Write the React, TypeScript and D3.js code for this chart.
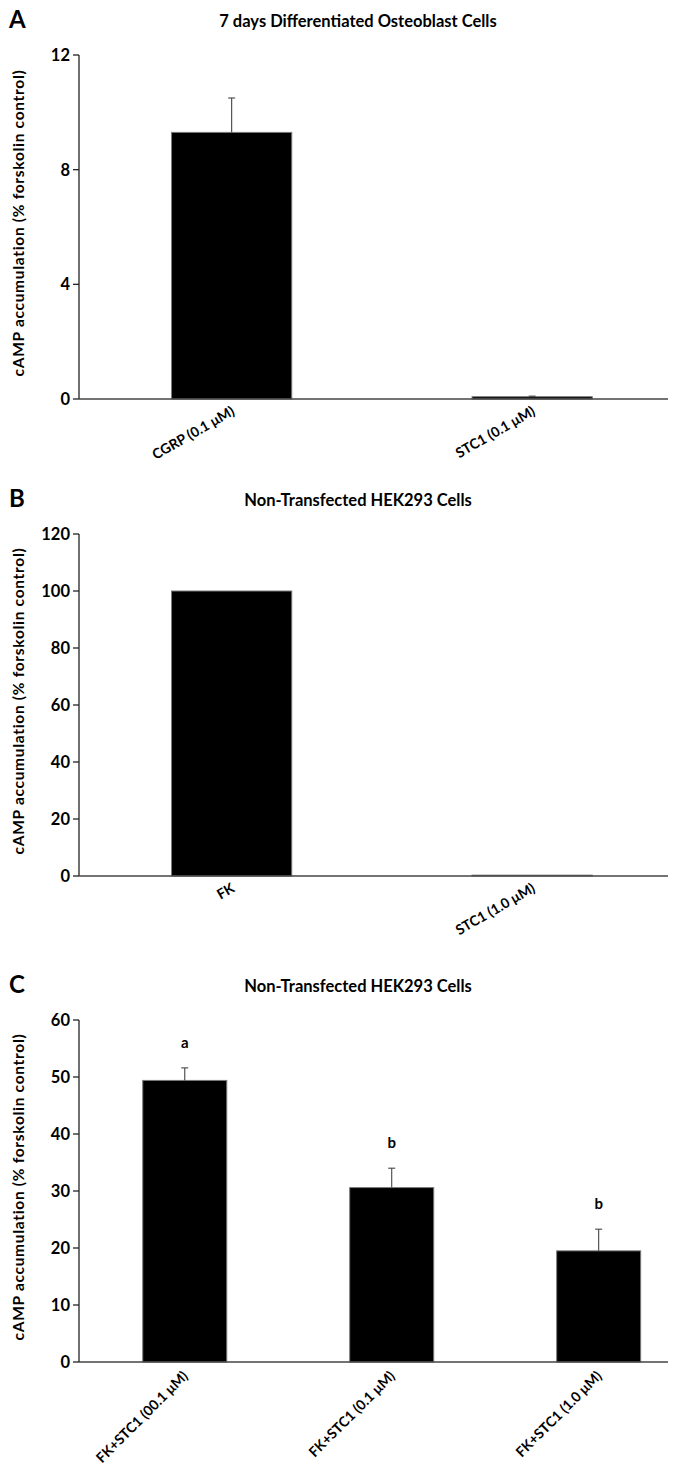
import * as d3 from "d3";

const catsA = ["CGRP (0.1 μM)", "STC1 (0.1 μM)"];
const meansA = [9.3, 0.08];
const errA = [1.2, 0.02];
const ticksA = [0, 4, 8, 12];

const catsB = ["FK", "STC1 (1.0 μM)"];
const meansB = [100, 0.3];
const errB = [0, 0];
const ticksB = [0, 20, 40, 60, 80, 100, 120];

const catsC = ["FK+STC1 (00.1 μM)", "FK+STC1 (0.1 μM)", "FK+STC1 (1.0 μM)"];
const meansC = [49.4, 30.6, 19.5];
const errC = [2.2, 3.4, 3.8];
const lettersC = ["a", "b", "b"];
const ticksC = [0, 10, 20, 30, 40, 50, 60];

const yTitle = "cAMP accumulation (% forskolin control)";
const font = "Lato, 'Open Sans', sans-serif";

const W = 675;
const H = 1468;
const axisX = 79;
const axisRight = 668;

type PanelProps = {
  letter: string;
  title: string;
  cats: string[];
  means: number[];
  errs: number[];
  ticks: number[];
  letters?: string[];
  top: number;
  bottom: number;
  padInner: number;
  padOuter: number;
  align: number;
  angle: number;
};

const Panel = (p: PanelProps) => {
  const max = p.ticks[p.ticks.length - 1];
  const y = d3.scaleLinear().domain([0, max]).range([p.bottom, p.top]);
  const x = d3
    .scaleBand()
    .domain(p.cats)
    .range([axisX, axisRight])
    .paddingInner(p.padInner)
    .paddingOuter(p.padOuter)
    .align(p.align);
  const bw = x.bandwidth();

  return (
    <g>
      <text x={9} y={p.top - 27} fontSize={24} fontWeight="bold" fontFamily={font}>
        {p.letter}
      </text>
      <text
        x={358}
        y={p.top - 28}
        textAnchor="middle"
        fontSize={16.5}
        fontWeight="bold"
        fontFamily={font}
      >
        {p.title}
      </text>
      <text
        transform={`translate(24,${(p.top + p.bottom) / 2 - 4}) rotate(-90)`}
        textAnchor="middle"
        fontSize={15.5}
        fontWeight="bold"
        fontFamily={font}
        letterSpacing={0.7}
      >
        {yTitle}
      </text>

      {p.cats.map((c, i) => {
        const x0 = x(c)!;
        const cx = x0 + bw / 2;
        const yTop = y(p.means[i]);
        const yErr = y(p.means[i] + p.errs[i]);
        return (
          <g key={c}>
            <rect
              x={x0}
              y={yTop}
              width={bw}
              height={p.bottom - yTop}
              fill="#000"
              stroke="#7a7a7a"
              strokeWidth={1}
            />
            {p.errs[i] > 0 && (
              <g stroke="#444" strokeWidth={1.1}>
                <line x1={cx} x2={cx} y1={yTop} y2={yErr} />
                <line x1={cx - 3.5} x2={cx + 3.5} y1={yErr} y2={yErr} />
              </g>
            )}
            {p.letters && (
              <text
                x={cx}
                y={yErr - 20}
                textAnchor="middle"
                fontSize={15}
                fontWeight="bold"
                fontFamily={font}
              >
                {p.letters[i]}
              </text>
            )}
            <text
              transform={`translate(${cx + 4},${p.bottom + 15}) rotate(${p.angle})`}
              textAnchor="end"
              fontSize={14}
              fontWeight="bold"
              fontFamily={font}
            >
              {c}
            </text>
          </g>
        );
      })}

      <line x1={axisX} x2={axisX} y1={p.top} y2={p.bottom} stroke="#222" strokeWidth={1.3} />
      <line x1={axisX} x2={axisRight} y1={p.bottom} y2={p.bottom} stroke="#444" strokeWidth={1.6} />
      {p.ticks.map((t) => (
        <g key={t}>
          <line x1={axisX - 6} x2={axisX} y1={y(t)} y2={y(t)} stroke="#222" strokeWidth={1.3} />
          <text
            x={axisX - 9}
            y={y(t)}
            dy="0.36em"
            textAnchor="end"
            fontSize={16.5}
            fontWeight="bold"
            fontFamily={font}
          >
            {t}
          </text>
        </g>
      ))}
    </g>
  );
};

export default function App() {
  return (
    <svg
      width={W}
      height={H}
      style={{ position: "absolute", left: 0, top: 0, background: "#fff" }}
    >
      <rect width={W} height={H} fill="#fff" />
      <Panel
        letter="A"
        title="7 days Differentiated Osteoblast Cells"
        cats={catsA}
        means={meansA}
        errs={errA}
        ticks={ticksA}
        top={55}
        bottom={399}
        padInner={0.6}
        padOuter={0.28}
        align={0.55}
        angle={-30}
      />
      <Panel
        letter="B"
        title="Non-Transfected HEK293 Cells"
        cats={catsB}
        means={meansB}
        errs={errB}
        ticks={ticksB}
        top={534}
        bottom={876}
        padInner={0.6}
        padOuter={0.28}
        align={0.55}
        angle={-30}
      />
      <Panel
        letter="C"
        title="Non-Transfected HEK293 Cells"
        cats={catsC}
        means={meansC}
        errs={errC}
        letters={lettersC}
        ticks={ticksC}
        top={1020}
        bottom={1362}
        padInner={0.594}
        padOuter={0.22}
        align={0.7}
        angle={-45}
      />
    </svg>
  );
}
